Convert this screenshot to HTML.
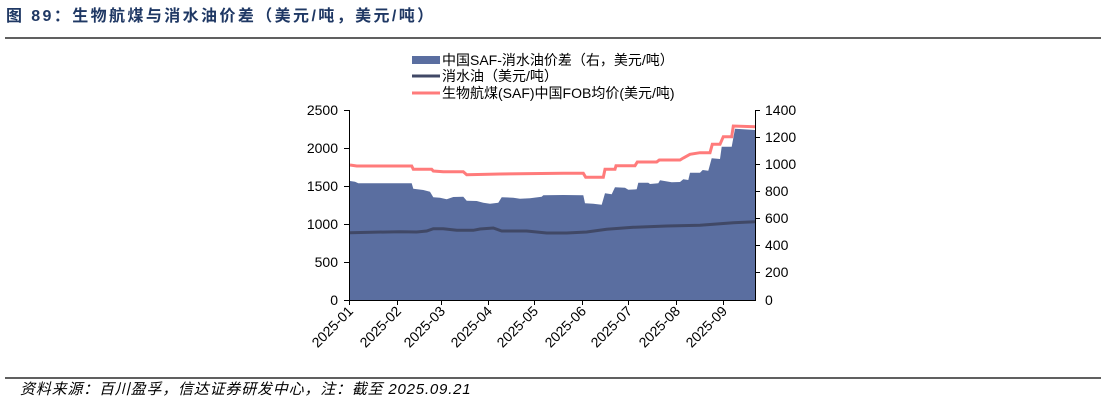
<!DOCTYPE html>
<html><head><meta charset="utf-8"><style>
body{margin:0;background:#fff;}
svg{display:block;font-family:"Liberation Sans","Noto Sans CJK SC",sans-serif;}
</style></head><body>
<svg width="1107" height="402" viewBox="0 0 1107 402">
<text x="6" y="21" font-size="16" font-weight="bold" fill="#1f3864" letter-spacing="2.4">图 89：生物航煤与消水油价差（美元/吨，美元/吨）</text>
<line x1="5" y1="38" x2="1101" y2="38" stroke="#000" stroke-width="1.2"/>
<line x1="5" y1="378" x2="1101" y2="378" stroke="#000" stroke-width="1.2"/>
<text x="20" y="394" font-size="15" font-style="italic" fill="#000" letter-spacing="0.8">资料来源：百川盈孚，信达证券研发中心，注：截至 2025.09.21</text>

<polygon fill="#5a6ea0" points="350,300 350,181 355,181.7 358.3,183.3 411.7,183.3 413.3,188.7 423.3,190 430,191.7 433.3,197.3 440,197.7 446.7,199.3 453.3,197 463.3,196.7 466.7,200.7 476.7,201 483.3,202.7 490,203.7 498.3,202.7 501.7,197.3 513.3,197.7 520,198.7 530,198.3 541.7,196.7 543.3,195.3 563.3,195 583.3,195.3 585,203.3 593.3,203.7 601.7,204.7 605,193.3 611.7,194.3 615,187.3 625,187.7 628.3,189.7 636.7,189.3 638.3,182.7 648.3,182.7 650,184 658.3,183.3 660,180.3 671.7,182.3 680,182 683.3,179.3 688.3,180 690,172.7 700,172.7 702.7,170 708.3,170.7 711.7,158.3 720,159 721.7,146.7 731.7,146.7 735,128.7 755,130 755,300"/>
<polyline fill="none" stroke="#404866" stroke-width="3" points="350,232.7 400,231.7 416.7,232 426.7,231 433.3,228.7 443.3,228.7 456.7,230.3 473.3,230.3 480,229 493.3,228 501.7,231 526.7,231 546.7,233 566.7,233 586.7,232 606.7,229.3 633.3,227.3 666.7,226 700,225.3 733.3,222.7 755,221.7"/>
<polyline fill="none" stroke="#ff7b7b" stroke-width="3" points="350,165 356.7,166 411.7,166 413.3,169.3 431.7,169.3 433.3,171 443.3,171.7 463.3,171.7 466.7,174.7 500,174 563.3,173.3 583.3,173.3 585.7,177.3 603.3,177.3 605,169.3 615,169.3 616,165.7 635,165.7 637.3,162 656.7,162 659.3,160 680,160 683.3,158 690,154.3 700,152.7 710,152.7 712.3,144.3 720,144.3 723.3,136.7 731.7,136.7 733.3,126 755,126.7"/>

<g stroke="#000" stroke-width="1">
<line x1="349.5" y1="110" x2="349.5" y2="300"/>
<line x1="755.5" y1="110" x2="755.5" y2="300"/>
<line x1="349" y1="300.5" x2="756" y2="300.5"/>
<line x1="344" y1="110.5" x2="349" y2="110.5"/><line x1="344" y1="148.5" x2="349" y2="148.5"/><line x1="344" y1="186.5" x2="349" y2="186.5"/><line x1="344" y1="224.5" x2="349" y2="224.5"/><line x1="344" y1="262.5" x2="349" y2="262.5"/><line x1="344" y1="300.5" x2="349" y2="300.5"/>
<line x1="755" y1="110.5" x2="760" y2="110.5"/><line x1="755" y1="137.5" x2="760" y2="137.5"/><line x1="755" y1="164.5" x2="760" y2="164.5"/><line x1="755" y1="191.5" x2="760" y2="191.5"/><line x1="755" y1="218.5" x2="760" y2="218.5"/><line x1="755" y1="245.5" x2="760" y2="245.5"/><line x1="755" y1="272.5" x2="760" y2="272.5"/>
<line x1="349.5" y1="300" x2="349.5" y2="305"/><line x1="397.5" y1="300" x2="397.5" y2="305"/><line x1="441.5" y1="300" x2="441.5" y2="305"/><line x1="488.5" y1="300" x2="488.5" y2="305"/><line x1="534.5" y1="300" x2="534.5" y2="305"/><line x1="582.5" y1="300" x2="582.5" y2="305"/><line x1="628.5" y1="300" x2="628.5" y2="305"/><line x1="676.5" y1="300" x2="676.5" y2="305"/><line x1="723.5" y1="300" x2="723.5" y2="305"/>
</g>
<g font-size="14" fill="#000" text-anchor="end">
<text x="338" y="115">2500</text><text x="338" y="153">2000</text><text x="338" y="191">1500</text><text x="338" y="229">1000</text><text x="338" y="267">500</text><text x="338" y="305">0</text>
</g>
<g font-size="14" fill="#000">
<text x="765" y="115">1400</text><text x="765" y="142">1200</text><text x="765" y="169">1000</text><text x="765" y="196">800</text><text x="765" y="223">600</text><text x="765" y="250">400</text><text x="765" y="277">200</text><text x="765" y="305">0</text>
</g>
<g font-size="14" fill="#000" text-anchor="end">
<text transform="translate(354,312) rotate(-45)">2025-01</text>
<text transform="translate(402,312) rotate(-45)">2025-02</text>
<text transform="translate(446,312) rotate(-45)">2025-03</text>
<text transform="translate(493,312) rotate(-45)">2025-04</text>
<text transform="translate(539,312) rotate(-45)">2025-05</text>
<text transform="translate(587,312) rotate(-45)">2025-06</text>
<text transform="translate(633,312) rotate(-45)">2025-07</text>
<text transform="translate(681,312) rotate(-45)">2025-08</text>
<text transform="translate(728,312) rotate(-45)">2025-09</text>
</g>
<rect x="412" y="56" width="28" height="8" fill="#5a6ea0"/>
<line x1="412" y1="76" x2="440" y2="76" stroke="#404866" stroke-width="3"/>
<line x1="412" y1="93" x2="440" y2="93" stroke="#ff7b7b" stroke-width="3"/>
<g font-size="14" fill="#000">
<text x="442" y="65">中国SAF-消水油价差（右，美元/吨）</text>
<text x="442" y="81">消水油（美元/吨）</text>
<text x="442" y="98">生物航煤(SAF)中国FOB均价(美元/吨)</text>
</g>
</svg>
</body></html>
